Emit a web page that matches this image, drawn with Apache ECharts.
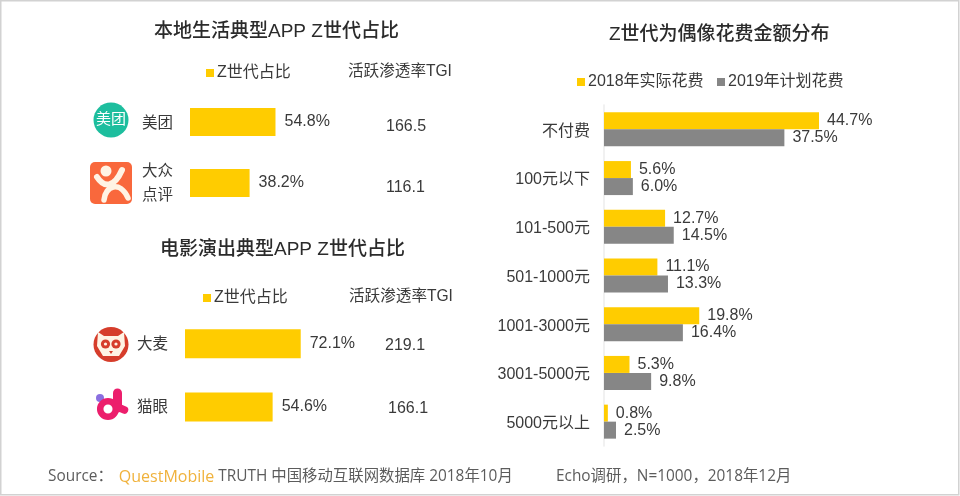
<!DOCTYPE html>
<html><head><meta charset="utf-8">
<style>html,body{margin:0;padding:0;background:#fff}#c{width:960px;height:496px}</style>
<script src="https://cdn.jsdelivr.net/npm/echarts@6/dist/echarts.min.js"></script>
</head><body><div id="c"></div>
<script>
const localApps = ['美团', '大众\n点评'];
const localShare = [54.8, 38.2];
const localTgi = ['166.5', '116.1'];
const filmApps = ['大麦', '猫眼'];
const filmShare = [72.1, 54.6];
const filmTgi = ['219.1', '166.1'];
const spendCats = ['不付费', '100元以下', '101-500元', '501-1000元', '1001-3000元', '3001-5000元', '5000元以上'];
const spend2018 = [44.7, 5.6, 12.7, 11.1, 19.8, 5.3, 0.8];
const spend2019 = [37.5, 6.0, 14.5, 13.3, 16.4, 9.8, 2.5];

const FF = '"Liberation Sans","Noto Sans CJK SC",sans-serif';
const FOOT = '"Open Sans","Noto Sans CJK SC",sans-serif';
const YEL = '#FFCC00', GRY = '#868686', TXT = '#3a3a3a';
const chart = echarts.init(document.getElementById('c'), null, {renderer: 'canvas'});

const pct = p => p.value.toFixed(1) + '%';
function bar(name, data, xi, yi, w, color, dist, fs) {
  return {type: 'bar', name, data, xAxisIndex: xi, yAxisIndex: yi, barWidth: w, barGap: 0,
    itemStyle: {color}, silent: true,
    label: {show: true, position: 'right', distance: dist, formatter: pct, color: TXT, fontSize: fs, fontFamily: FF}};
}
function catAxis(data, gridIndex, margin, fs, line, padTop) {
  const base = {color: TXT, fontSize: fs, fontFamily: FF};
  return {type: 'category', gridIndex, data, inverse: true, position: 'left',
    axisLine: {show: !!line, lineStyle: {color: '#ececec', width: 1.5}}, axisTick: {show: false},
    axisLabel: {margin, ...base, interval: 0,
      formatter: v => v.split('\n').map((s, i) => (i === 0 ? '{a|' : '{b|') + s + '}').join('\n'),
      rich: {a: {...base, lineHeight: 26, padding: [padTop, 0, 0, 0]}, b: {...base, lineHeight: 26}}}};
}
function tgiAxis(data, gridIndex, margin, padTop, pads) {
  const base = {color: TXT, fontSize: 16, fontFamily: FF};
  const rich = {};
  pads.forEach((p, i) => { rich['t' + i] = {...base, padding: [padTop, 0, 0, p]}; });
  return {type: 'category', gridIndex, inverse: true, position: 'right', data,
    axisLine: {show: false}, axisTick: {show: false},
    axisLabel: {margin, align: 'left', ...base, interval: 0, rich,
      formatter: (v, i) => '{t' + i + '|' + v + '}'}};
}
const valAxis = g => ({type: 'value', gridIndex: g, min: 0, max: g === 2 ? 50 : 100, show: false});
const legend = (name, left, top) => ({data: [{name, icon: 'rect'}], left, top, itemWidth: 8, itemHeight: 8, itemGap: 4, padding: 0,
  selectedMode: false, textStyle: {color: TXT, fontSize: 16, fontFamily: FF, padding: [0, 0, 0, -2]}});
const title = (text, left, top) => ({text, left, top, padding: 0,
  textStyle: {color: '#2b2b2b', fontSize: 19, fontWeight: 500, fontFamily: FF}});
const gtext = (text, x, y) => ({type: 'text', x, y, style: {text, fill: TXT, fontSize: 15.6, fontFamily: FF, textVerticalAlign: 'middle'}});
const cream = '#FFF3E4', damai = '#D63D2B', mao = '#EC1E6C';

const icons = [
  {type: 'circle', shape: {cx: 111, cy: 120, r: 17.5}, style: {fill: '#1DBE9E'}},
  {type: 'text', x: 111, y: 120, style: {text: '美团', fill: '#fff', fontSize: 15, fontFamily: FF, textAlign: 'center', textVerticalAlign: 'middle'}},
  {type: 'rect', shape: {x: 90, y: 162, width: 42, height: 42, r: 5}, style: {fill: '#F9683C'}},
  {type: 'circle', shape: {cx: 106, cy: 171, r: 5.5}, style: {fill: cream}},
  {type: 'bezierCurve', shape: {x1: 97, y1: 177, cpx1: 104, cpy1: 188, x2: 122, y2: 170, cpx2: 114, cpy2: 188}, style: {stroke: cream, fill: null, lineWidth: 6, lineCap: 'round'}},
  {type: 'bezierCurve', shape: {x1: 104, y1: 200, cpx1: 105, cpy1: 186, x2: 128, y2: 198, cpx2: 120, cpy2: 180}, style: {stroke: cream, fill: null, lineWidth: 5.5, lineCap: 'round'}},
  {type: 'circle', shape: {cx: 111, cy: 344.5, r: 17.5}, style: {fill: damai}},
  {type: 'polygon', shape: {points: [[98, 332], [104, 336], [118, 336], [124, 332], [125, 346], [119, 356], [103, 356], [97, 346]]}, style: {fill: cream}},
  {type: 'circle', shape: {cx: 105.5, cy: 344, r: 4.6}, style: {fill: damai}},
  {type: 'circle', shape: {cx: 116, cy: 344, r: 4.6}, style: {fill: damai}},
  {type: 'circle', shape: {cx: 105.5, cy: 344, r: 1.6}, style: {fill: cream}},
  {type: 'circle', shape: {cx: 116, cy: 344, r: 1.6}, style: {fill: cream}},
  {type: 'polygon', shape: {points: [[109, 351], [113, 351], [111, 354]]}, style: {fill: damai}},
  {type: 'circle', shape: {cx: 100, cy: 398, r: 4}, style: {fill: '#8A6FE0'}},
  {type: 'circle', shape: {cx: 108, cy: 409, r: 7.8}, style: {fill: null, stroke: mao, lineWidth: 6.5}},
  {type: 'line', shape: {x1: 117.5, y1: 393, x2: 117.5, y2: 408}, style: {stroke: mao, lineWidth: 9, lineCap: 'round'}},
  {type: 'line', shape: {x1: 117.5, y1: 407, x2: 124.5, y2: 410}, style: {stroke: mao, lineWidth: 7.5, lineCap: 'round'}}
];

chart.setOption({
  animation: false,
  backgroundColor: '#fff',
  title: [title('本地生活典型APP Z世代占比', 154, 22), title('电影演出典型APP Z世代占比', 160, 240), title('Z世代为偶像花费金额分布', 609, 25)],
  legend: [legend('Z世代占比', 206, 65), legend('Z世代占比', 203, 290), legend('2018年实际花费', 577, 74), legend('2019年计划花费', 717, 74)],
  grid: [
    {left: 190, top: 91.5, width: 156, height: 122},
    {left: 185, top: 312, width: 160.5, height: 126.5},
    {left: 604, top: 105, width: 240.5, height: 341}
  ],
  xAxis: [valAxis(0), valAxis(1), valAxis(2)],
  yAxis: [
    catAxis(localApps, 0, 17, 15.5, false, 4),
    tgiAxis(localTgi, 0, 40, 10, [0, 0]),
    catAxis(filmApps, 1, 17, 15.5, false, 2),
    tgiAxis(filmTgi, 1, 39.5, 3, [0, 3]),
    catAxis(spendCats, 2, 14, 16, true, 4)
  ],
  series: [
    bar('Z世代占比', localShare, 0, 0, 28, YEL, 9, 16),
    bar('Z世代占比', filmShare, 1, 2, 29, YEL, 9, 16),
    bar('2018年实际花费', spend2018, 2, 4, 17, YEL, 8, 16),
    bar('2019年计划花费', spend2019, 2, 4, 17, GRY, 8, 16)
  ],
  graphic: {elements: [
    {type: 'rect', shape: {x: 0.75, y: 0.75, width: 958, height: 494}, style: {fill: null, stroke: '#d2d2d2', lineWidth: 1.5}, z: 10},
    gtext('活跃渗透率TGI', 348, 72),
    gtext('活跃渗透率TGI', 349, 297),
    ...icons,
    {type: 'text', x: 48, y: 477, style: {
      rich: {a: {fill: '#5c5c5c', fontSize: 15.4, fontFamily: FOOT}, q: {fill: '#F0B23C', fontSize: 16, fontFamily: FOOT, padding: [0, 0, 0, 2]}},
      text: '{a|Source： }{q|QuestMobile}{a| TRUTH 中国移动互联网数据库 2018年10月}', textVerticalAlign: 'middle'}},
    {type: 'text', x: 556, y: 477, style: {text: 'Echo调研，N=1000，2018年12月', fill: '#5c5c5c', fontSize: 15.4, fontFamily: FOOT, textVerticalAlign: 'middle'}}
  ]}
});
</script></body></html>
